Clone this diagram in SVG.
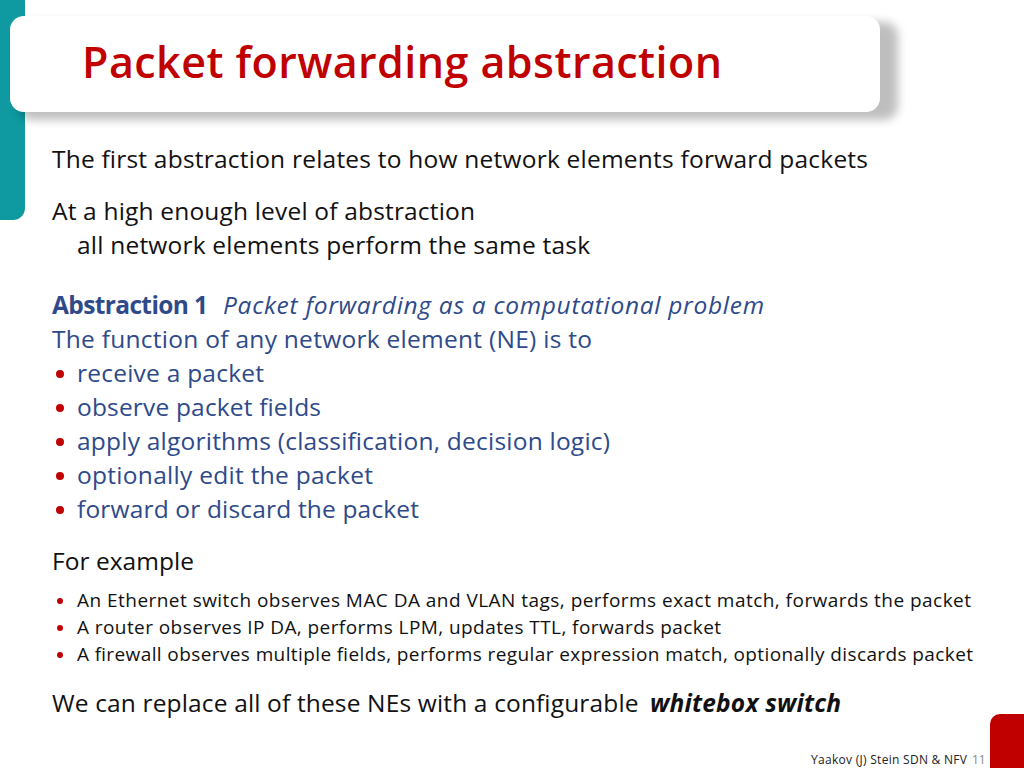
<svg xmlns="http://www.w3.org/2000/svg" width="1024" height="768" viewBox="0 0 1024 768">
<style>
text{font-family:"Open Sans","Liberation Sans",sans-serif}
.b{font-size:24.5px;fill:#111}
.bl{font-size:24.5px;fill:#2e4a8a}
.s{font-size:19px;fill:#111}
.dot{fill:#c00000}
</style>
<defs>
<filter id="sh" x="-5%" y="-20%" width="112%" height="150%"><feGaussianBlur stdDeviation="5"/></filter>
</defs>
<rect width="1024" height="768" fill="#fff"/>
<rect x="-20" y="-10" width="45" height="230" rx="12" fill="#0e9aa0"/>
<rect x="18" y="22" width="880" height="98" rx="14" fill="#000" opacity="0.25" filter="url(#sh)"/>
<rect x="10" y="16" width="870" height="96" rx="14" fill="#fff"/>
<text x="82" y="78" font-size="43" font-weight="600" fill="#c00000" textLength="640">Packet forwarding abstraction</text>
<text class="b" x="52" y="168" textLength="816">The first abstraction relates to how network elements forward packets</text>
<text class="b" x="52" y="220" textLength="423">At a high enough level of abstraction</text>
<text class="b" x="77" y="254" textLength="513">all network elements perform the same task</text>
<text class="bl" x="52" y="314"><tspan font-weight="bold" textLength="156">Abstraction 1</tspan><tspan x="223" font-style="italic" textLength="541">Packet forwarding as a computational problem</tspan></text>
<text class="bl" x="52" y="348" textLength="540">The function of any network element (NE) is to</text>
<g>
<text class="bl" x="77" y="382" textLength="187">receive a packet</text>
<text class="bl" x="77" y="416" textLength="244">observe packet fields</text>
<text class="bl" x="77" y="450" textLength="533">apply algorithms (classification, decision logic)</text>
<text class="bl" x="77" y="484" textLength="296">optionally edit the packet</text>
<text class="bl" x="77" y="518" textLength="342">forward or discard the packet</text>
</g>
<circle class="dot" cx="60" cy="374" r="4"/><circle class="dot" cx="60" cy="408" r="4"/><circle class="dot" cx="60" cy="442" r="4"/><circle class="dot" cx="60" cy="476" r="4"/><circle class="dot" cx="60" cy="510" r="4"/>
<text class="b" x="52" y="570" textLength="142">For example</text>
<circle class="dot" cx="60" cy="601" r="3"/><circle class="dot" cx="60" cy="628" r="3"/><circle class="dot" cx="60" cy="655" r="3"/>
<text class="s" x="77" y="607" textLength="894">An Ethernet switch observes MAC DA and VLAN tags, performs exact match, forwards the packet</text>
<text class="s" x="77" y="634" textLength="644">A router observes IP DA, performs LPM, updates TTL, forwards packet</text>
<text class="s" x="77" y="661" textLength="896">A firewall observes multiple fields, performs regular expression match, optionally discards packet</text>
<text class="b" x="52" y="712"><tspan textLength="593">We can replace all of these NEs with a configurable </tspan><tspan font-weight="bold" font-style="italic" x="650" textLength="191">whitebox switch</tspan></text>
<rect x="990" y="714" width="60" height="70" rx="10" fill="#c00000"/>
<text x="811" y="764" font-size="12" fill="#222" textLength="156">Yaakov (J) Stein SDN &amp; NFV</text>
<text x="972" y="764" font-size="12" fill="#888">11</text>
</svg>
